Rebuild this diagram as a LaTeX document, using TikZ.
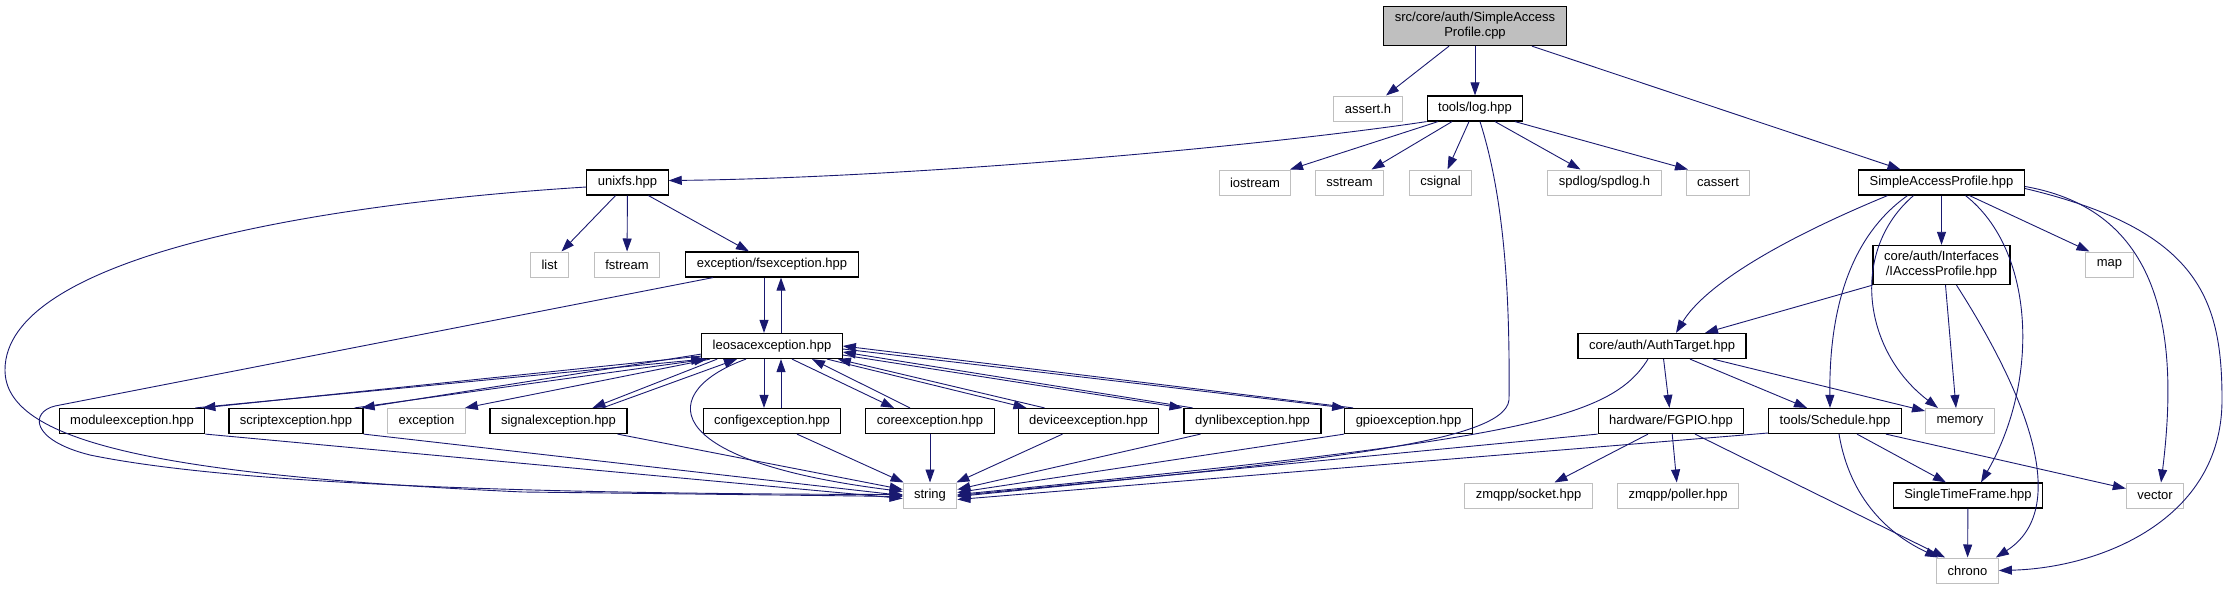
\documentclass[tikz,border=0pt]{standalone}
\usepackage{fontspec}
\setmainfont{Liberation Sans}
\usetikzlibrary{arrows.meta}
\definecolor{linkblue}{HTML}{191970}
\definecolor{boxgray}{HTML}{BFBFBF}
\begin{document}
\begin{tikzpicture}[x=1pt,y=-1pt,
  filebox/.style={draw=black,line width=1.2pt,fill=white,inner xsep=11pt,inner ysep=6pt,
    minimum height=25pt,align=center,font=\fontsize{13}{15}\selectfont},
  sysbox/.style={filebox,draw=boxgray,line width=1pt},
  incl/.style={linkblue,line width=0.9pt,-{Triangle[length=13pt,width=9pt]}}]
\useasboundingbox (0,0) rectangle (2228,589);

\node[filebox,fill=boxgray] (root) at (1475,26) {src/core/auth/SimpleAccess\\Profile.cpp};
\node[sysbox] (assert) at (1368,108.5) {assert.h};
\node[filebox] (log) at (1475,108.5) {tools/log.hpp};
\node[filebox] (unixfs) at (627.5,182.5) {unixfs.hpp};
\node[sysbox] (iostream) at (1255,182.5) {iostream};
\node[sysbox] (sstream) at (1349.5,182.5) {sstream};
\node[sysbox] (csignal) at (1440.5,182.5) {csignal};
\node[sysbox] (spdlog) at (1604.5,182.5) {spdlog/spdlog.h};
\node[sysbox] (cassert) at (1718,182.5) {cassert};
\node[filebox] (sap) at (1941.5,182.5) {SimpleAccessProfile.hpp};
\node[sysbox] (list) at (549.5,264.5) {list};
\node[sysbox] (fstream) at (627,264.5) {fstream};
\node[filebox] (fsexc) at (772,264.5) {exception/fsexception.hpp};
\node[filebox] (iap) at (1941.5,265) {core/auth/Interfaces\\/IAccessProfile.hpp};
\node[sysbox] (map) at (2109.5,264.5) {map};
\node[filebox] (leosac) at (772,346) {leosacexception.hpp};
\node[filebox] (target) at (1662,346) {core/auth/AuthTarget.hpp};
\node[filebox] (module) at (132,421) {moduleexception.hpp};
\node[filebox] (script) at (296,421) {scriptexception.hpp};
\node[sysbox] (exception) at (426.5,421) {exception};
\node[filebox] (signal) at (558.5,421) {signalexception.hpp};
\node[filebox] (config) at (772,421) {configexception.hpp};
\node[filebox] (core) at (930,421) {coreexception.hpp};
\node[filebox] (device) at (1088.5,421) {deviceexception.hpp};
\node[filebox] (dynlib) at (1252.5,421) {dynlibexception.hpp};
\node[filebox] (gpio) at (1408.5,421) {gpioexception.hpp};
\node[filebox] (fgpio) at (1671,421) {hardware/FGPIO.hpp};
\node[filebox] (schedule) at (1835,421) {tools/Schedule.hpp};
\node[sysbox] (memory) at (1960,421) {memory};
\node[sysbox] (string) at (930,495.5) {string};
\node[sysbox] (socket) at (1528.5,495.5) {zmqpp/socket.hpp};
\node[sysbox] (poller) at (1678,495.5) {zmqpp/poller.hpp};
\node[filebox] (stf) at (1968,495.5) {SingleTimeFrame.hpp};
\node[sysbox] (vector) at (2155,495.5) {vector};
\node[sysbox] (chrono) at (1967.5,570.5) {chrono};

\draw[incl] ([xshift=-26pt]root.south) -- ([xshift=18pt]assert.north);
\draw[incl] (root) -- (log);
\draw[incl] ([xshift=57pt]root.south) -- ([xshift=-41pt]sap.north);

\draw[incl] (log.south west) .. controls (1250,148) and (900,178) .. ([yshift=2pt]unixfs.east);
\draw[incl] ([xshift=-37pt]log.south) -- ([xshift=35pt]iostream.north);
\draw[incl] ([xshift=-23pt]log.south) -- ([xshift=22pt]sstream.north);
\draw[incl] ([xshift=-6pt]log.south) -- ([xshift=7pt]csignal.north);
\draw[incl] ([xshift=20pt]log.south) -- ([xshift=-24pt]spdlog.north);
\draw[incl] ([xshift=40pt]log.south) -- ([xshift=-30pt]cassert.north);
\draw[incl] ([xshift=5pt]log.south) .. controls (1505,200) and (1510,300) .. (1509,400)
  .. controls (1504,445) and (1300,462) .. ([yshift=-1pt]string.east);

\draw[incl] ([xshift=-12pt]unixfs.south) -- ([xshift=12pt]list.north);
\draw[incl] (unixfs) -- (fstream);
\draw[incl] ([xshift=21pt]unixfs.south) -- ([xshift=-23pt]fsexc.north);
\draw[incl] ([yshift=-4.5pt]unixfs.west) .. controls (300,205) and (5,260) .. (5,370)
  .. controls (5,440) and (150,475) .. (523,492) -- ([yshift=-1pt]string.west);

\draw[incl] ([xshift=-8pt]fsexc.south) -- ([xshift=-8pt]leosac.north);
\draw[incl] ([xshift=9pt]leosac.north) -- ([xshift=9pt]fsexc.south);
\draw[incl] ([xshift=-59pt]fsexc.south) -- (55,406) .. controls (30,412) and (30,440) .. (90,455)
  .. controls (250,488) and (600,494) .. ([yshift=1pt]string.west);

\draw[incl] ([yshift=3pt]leosac.south west) -- ([xshift=-3pt]module.north east);
\draw[incl] ([xshift=-10pt]module.north east) -- ([xshift=3pt]leosac.south west);
\draw[incl] ([yshift=5pt]leosac.south west) -- ([xshift=-2pt]script.north east);
\draw[incl] ([xshift=-9pt]script.north east) -- ([xshift=6pt]leosac.south west);
\draw[incl] ([xshift=9pt]leosac.south west) -- ([xshift=-1pt]exception.north east);
\draw[incl] ([xshift=16pt]leosac.south west) -- ([xshift=34pt]signal.north);
\draw[incl] ([xshift=44pt]signal.north) -- ([xshift=-35pt]leosac.south);
\draw[incl] ([xshift=-8pt]leosac.south) -- ([xshift=-8pt]config.north);
\draw[incl] ([xshift=9pt]config.north) -- ([xshift=9pt]leosac.south);
\draw[incl] ([xshift=20pt]leosac.south) -- ([xshift=-36pt]core.north);
\draw[incl] ([xshift=-20pt]core.north) -- ([xshift=40pt]leosac.south);
\draw[incl] ([xshift=55pt]leosac.south) -- ([xshift=-62pt]device.north);
\draw[incl] ([xshift=-44pt]device.north) -- ([xshift=-5pt]leosac.south east);
\draw[incl] ([yshift=-9pt]leosac.east) -- ([xshift=-70pt]dynlib.north);
\draw[incl] ([xshift=-60pt]dynlib.north) -- ([yshift=-6pt]leosac.east);
\draw[incl] ([yshift=-3pt]leosac.east) -- ([xshift=1pt]gpio.north west);
\draw[incl] ([xshift=9pt]gpio.north west) -- (leosac.east);
\draw[incl] ([xshift=-26pt]leosac.south) .. controls (660,390) and (650,460) .. ([yshift=4pt]string.west);

\draw[incl] (module.south east) -- ([yshift=-3pt]string.west);
\draw[incl] (script.south east) -- (string.west);
\draw[incl] ([xshift=-10pt]signal.south east) -- ([yshift=6pt]string.west);
\draw[incl] ([xshift=25pt]config.south) -- ([xshift=1pt]string.north west);
\draw[incl] (core) -- (string);
\draw[incl] ([xshift=-26pt]device.south) -- ([xshift=-1pt]string.north east);
\draw[incl] ([xshift=-52pt]dynlib.south) -- ([yshift=6pt]string.east);
\draw[incl] (gpio.south west) -- ([yshift=3pt]string.east);
\draw[incl] (fgpio.south west) -- (string.east);
\draw[incl] ([yshift=-12pt]schedule.west) -- ([yshift=-4pt]string.east);
\draw[incl] ([xshift=-14pt]target.south) .. controls (1610,420) and (1520,440) .. ([yshift=1pt]string.east);

\draw[incl] ([xshift=-54pt]sap.south) .. controls (1780,240) and (1705,285) .. ([xshift=14pt]target.north);
\draw[incl] (sap) -- (iap);
\draw[incl] ([xshift=-34pt]sap.south) .. controls (1845,240) and (1829,320) .. ([xshift=-5pt]schedule.north);
\draw[incl] ([xshift=-28pt]sap.south) .. controls (1850,250) and (1862,350) .. ([xshift=-22pt]memory.north);
\draw[incl] ([xshift=24pt]sap.south) .. controls (2035,250) and (2040,380) .. ([xshift=13pt]stf.north);
\draw[incl] ([xshift=28pt]sap.south) -- ([xshift=-20pt]map.north);
\draw[incl] ([yshift=-4pt]sap.east) .. controls (2160,210) and (2180,330) .. ([xshift=6pt]vector.north);
\draw[incl] ([yshift=-6pt]sap.east) .. controls (2200,230) and (2222,300) .. (2222,400)
  .. controls (2222,520) and (2100,568) .. (chrono.east);

\draw[incl] (iap.south west) -- ([xshift=43pt]target.north);
\draw[incl] ([xshift=4pt]iap.south) -- ([xshift=-4pt]memory.north);
\draw[incl] ([xshift=15pt]iap.south) .. controls (2030,400) and (2070,510) .. ([xshift=-3pt]chrono.north east);

\draw[incl] (target) -- (fgpio);
\draw[incl] ([xshift=28pt]target.south) -- ([xshift=-28pt]schedule.north);
\draw[incl] ([xshift=51pt]target.south) -- ([yshift=10pt]memory.west);

\draw[incl] ([xshift=-23pt]fgpio.south) -- ([xshift=26pt]socket.north);
\draw[incl] (fgpio) -- (poller);
\draw[incl] ([xshift=24pt]fgpio.south) -- ([xshift=9pt]chrono.north west);

\draw[incl] ([xshift=22pt]schedule.south) -- ([xshift=-22pt]stf.north);
\draw[incl] ([xshift=4pt]schedule.south) .. controls (1850,500) and (1890,535) .. ([xshift=2pt]chrono.north west);
\draw[incl] ([xshift=-16pt]schedule.south east) -- ([yshift=7pt]vector.west);
\draw[incl] (stf) -- (chrono);
\end{tikzpicture}
\end{document}
